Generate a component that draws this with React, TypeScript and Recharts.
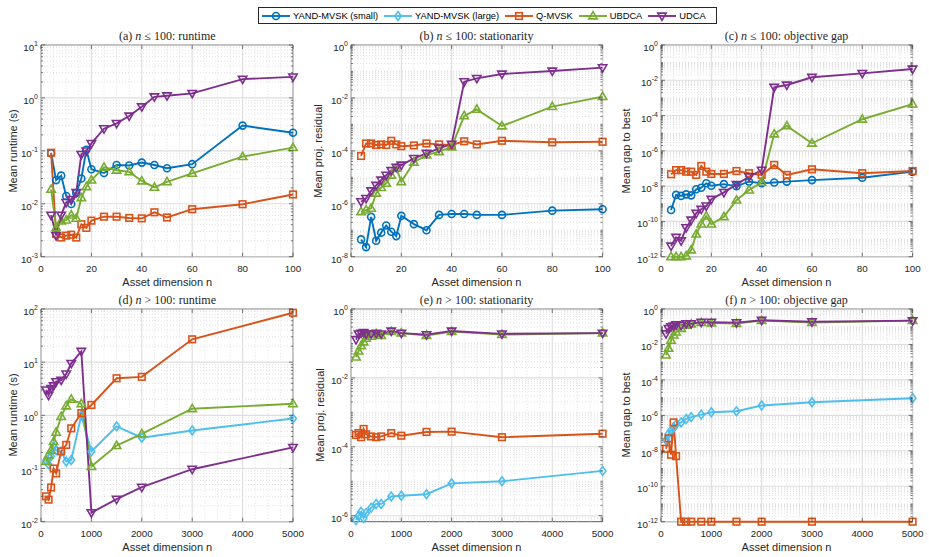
import React from 'react';
import { LineChart, Line, XAxis, YAxis, ReferenceLine, ReferenceArea } from 'recharts';

// asset dimensions
const nSmall = [4, 6, 8, 10, 12, 14, 16, 18, 20, 25, 30, 35, 40, 45, 50, 60, 80, 100];
const nLarge = [100, 150, 200, 250, 300, 400, 500, 600, 800, 1000, 1500, 2000, 3000, 5000];

// (a) runtime, n <= 100
const runtimeSmallYand = [0.09, 0.028, 0.034, 0.014, 0.0099, 0.016, 0.03, 0.105, 0.045, 0.038, 0.054, 0.053, 0.06, 0.054, 0.047, 0.056, 0.3, 0.22];
const runtimeSmallQ = [0.092, 0.0027, 0.0023, 0.0025, 0.0026, 0.0023, 0.0041, 0.0035, 0.0048, 0.0057, 0.0057, 0.0054, 0.0053, 0.0069, 0.0055, 0.0079, 0.0098, 0.015];
const runtimeSmallUbdca = [0.0187, 0.0035, 0.0047, 0.0049, 0.0061, 0.0053, 0.013, 0.021, 0.028, 0.049, 0.043, 0.04, 0.027, 0.0204, 0.026, 0.0376, 0.0776, 0.115];
const runtimeSmallUdca = [0.0061, 0.0025, 0.0061, 0.0106, 0.0121, 0.0164, 0.0857, 0.1, 0.138, 0.262, 0.33, 0.455, 0.68, 1.05, 1.1, 1.22, 2.27, 2.5];

// (b) stationarity, n <= 100
const statSmallYand = [4.5e-8, 2.3e-8, 3.2e-7, 4e-8, 8.1e-8, 1.5e-7, 8.8e-8, 6e-8, 3.5e-7, 1.7e-7, 1.0e-7, 3.8e-7, 4.1e-7, 4.1e-7, 3.8e-7, 3.8e-7, 5.5e-7, 6.2e-7];
const statSmallQ = [6.4e-5, 1.9e-4, 1.9e-4, 1.66e-4, 1.75e-4, 1.66e-4, 2.4e-4, 1.75e-4, 1.5e-4, 1.6e-4, 1.9e-4, 1.75e-4, 1.66e-4, 2.3e-4, 1.75e-4, 2.4e-4, 2.1e-4, 2.2e-4];
const statSmallUbdca = [5e-7, 5.8e-7, 6.7e-7, 2.5e-6, 4.1e-6, 5.9e-6, 1.2e-5, 2.2e-5, 6.8e-6, 3.7e-5, 6.9e-5, 9.3e-5, 1.4e-4, 2.1e-3, 3.7e-3, 8.7e-4, 4.7e-3, 0.0112];
const statSmallUdca = [1.2e-6, 1.6e-6, 3.1e-6, 5e-6, 7.9e-6, 1.2e-5, 1.8e-5, 2.4e-5, 2.9e-5, 5.2e-5, 8.1e-5, 1.25e-4, 1.8e-4, 0.041, 0.055, 0.08, 0.104, 0.139];

// (c) objective gap, n <= 100
const gapSmallYand = [4.4e-10, 3.2e-9, 2.8e-9, 3.4e-9, 3e-9, 6.6e-9, 8.1e-9, 1.45e-8, 1.05e-8, 1.3e-8, 1e-8, 1.8e-8, 1.45e-8, 1.6e-8, 1.8e-8, 2.2e-8, 3e-8, 6.6e-8];
const gapSmallQ = [4.7e-8, 8.1e-8, 8.1e-8, 6.6e-8, 6.6e-8, 4.3e-8, 1.4e-7, 6.6e-8, 4.9e-8, 4.9e-8, 7.2e-8, 5.4e-8, 4.3e-8, 1.6e-7, 4.3e-8, 9e-8, 5.4e-8, 7.2e-8];
const gapSmallUbdca = [1e-12, 1e-12, 1e-12, 1.1e-12, 2.4e-12, 1.9e-11, 7.1e-11, 2e-10, 7e-11, 1.85e-10, 1.6e-9, 6e-9, 1.65e-8, 9e-6, 2.6e-5, 2.7e-6, 6.2e-5, 4.5e-4];
const gapSmallUdca = [4e-12, 1.26e-11, 8e-12, 4.4e-11, 1.2e-10, 2.9e-10, 4.9e-10, 7.5e-10, 1.8e-9, 4.4e-9, 1.26e-8, 3.4e-8, 8.1e-8, 4e-3, 5.4e-3, 0.0148, 0.0247, 0.0437];

// (d) runtime, n > 100
const runtimeLargeYand = [0.14, 0.12, 0.17, 0.26, 0.22, 0.21, 0.135, 0.145, 1.0, 0.21, 0.62, 0.38, 0.52, 0.87];
const runtimeLargeQ = [0.03, 0.026, 0.044, 0.1, 0.081, 0.21, 0.278, 0.57, 1.1, 1.57, 4.98, 5.3, 26.9, 85];
const runtimeLargeUbdca = [0.135, 0.18, 0.22, 0.32, 0.48, 0.95, 1.5, 2.0, 1.65, 0.109, 0.27, 0.45, 1.33, 1.65];
const runtimeLargeUdca = [3.0, 2.4, 3.2, 3.6, 4.3, 4.6, 6.0, 9.5, 16, 0.0148, 0.0265, 0.0445, 0.097, 0.25];

// (e) stationarity, n > 100
const statLargeYand = [7.5e-7, 1.0e-6, 1.3e-6, 8.5e-7, 1.2e-6, 1.7e-6, 2.2e-6, 2.2e-6, 3.6e-6, 3.8e-6, 4.2e-6, 8.7e-6, 1.0e-5, 2.0e-5];
const statLargeQ = [2.2e-4, 2.5e-4, 1.9e-4, 3.3e-4, 2.3e-4, 2.0e-4, 1.9e-4, 2.0e-4, 2.5e-4, 2.1e-4, 2.7e-4, 2.75e-4, 1.9e-4, 2.4e-4];
const statLargeUbdca = [0.04, 0.06, 0.085, 0.11, 0.14, 0.16, 0.19, 0.17, 0.22, 0.2, 0.17, 0.22, 0.18, 0.2];
const statLargeUdca = [0.13, 0.19, 0.2, 0.21, 0.19, 0.19, 0.2, 0.19, 0.23, 0.2, 0.18, 0.23, 0.19, 0.2];

// (f) objective gap, n > 100
const gapLargeYand = [4e-8, 9e-8, 1.4e-7, 2e-7, 3e-7, 4e-7, 6.3e-7, 8e-7, 1.1e-6, 1.5e-6, 1.7e-6, 3.6e-6, 5.5e-6, 9.3e-6];
const gapLargeQ = [1.3e-8, 5e-8, 6e-9, 4e-7, 5e-9, 1e-12, 1e-12, 1e-12, 1e-12, 1e-12, 1e-12, 1e-12, 1e-12, 1e-12];
const gapLargeUbdca = [2.5e-3, 6e-3, 0.017, 0.034, 0.05, 0.08, 0.12, 0.14, 0.17, 0.16, 0.15, 0.22, 0.17, 0.22];
const gapLargeUdca = [0.04, 0.08, 0.1, 0.11, 0.13, 0.12, 0.15, 0.15, 0.18, 0.18, 0.17, 0.23, 0.19, 0.22];

const SANS = '"Liberation Sans", Arial, Helvetica, sans-serif';
const SERIF = '"Liberation Serif", "Times New Roman", serif';
const INK = '#262626';

type Shape = 'circle' | 'diamond' | 'square' | 'up' | 'down';

const METHODS: { name: string; color: string; shape: Shape }[] = [
  { name: 'YAND-MVSK (small)', color: '#0072BD', shape: 'circle' },
  { name: 'YAND-MVSK (large)', color: '#4DBEEE', shape: 'diamond' },
  { name: 'Q-MVSK', color: '#D95319', shape: 'square' },
  { name: 'UBDCA', color: '#77AC30', shape: 'up' },
  { name: 'UDCA', color: '#7E2F8E', shape: 'down' },
];

const Marker = ({ shape, color, cx, cy }: { shape: Shape; color: string; cx: number; cy: number }) => {
  const common = { fill: 'none', stroke: color, strokeWidth: 1.6 };
  if (shape === 'circle') return <circle cx={cx} cy={cy} r={3.5} {...common} />;
  if (shape === 'square') return <rect x={cx - 3.3} y={cy - 3.3} width={6.6} height={6.6} {...common} />;
  if (shape === 'diamond')
    return <path d={`M${cx},${cy - 4.4}L${cx + 3.3},${cy}L${cx},${cy + 4.4}L${cx - 3.3},${cy}Z`} {...common} />;
  if (shape === 'up')
    return <path d={`M${cx},${cy - 4.4}L${cx + 4.2},${cy + 2.9}L${cx - 4.2},${cy + 2.9}Z`} {...common} />;
  return <path d={`M${cx},${cy + 4.4}L${cx + 4.2},${cy - 2.9}L${cx - 4.2},${cy - 2.9}Z`} {...common} />;
};

const makeDot = (shape: Shape, color: string) => (props: any) => {
  const { cx, cy, index } = props;
  if (cx == null || cy == null) return <g key={`d-${index}`} />;
  return <Marker key={`d-${index}`} shape={shape} color={color} cx={cx} cy={cy} />;
};

const zip = (xs: number[], ys: number[]) => xs.map((n, i) => ({ n, v: ys[i] }));

// plot rectangles in page pixels
const COLS = [
  { l: 41.3, r: 293.3 },
  { l: 350.7, r: 602.3 },
  { l: 660.7, r: 912.3 },
];
const ROWS = [
  { t: 45, b: 256.7 },
  { t: 309, b: 521.7 },
];

const YW = 48;
const MT = 10;
const MR = 12;
const XH = 30;

interface PanelProps {
  col: number;
  row: number;
  title: React.ReactNode;
  ylabel: string;
  ylabelDx: number;
  xMax: number;
  xTicks: number[];
  xMinorStep: number;
  yMinExp: number;
  yMaxExp: number;
  yDomainMin?: number;
  yMajorStep: number;
  series: { idx: number; ys: number[] }[];
  xs: number[];
}

const Panel = (p: PanelProps) => {
  const { l, r } = COLS[p.col];
  const { t, b } = ROWS[p.row];
  const pw = r - l;
  const ph = b - t;
  const W = YW + pw + MR;
  const H = MT + ph + XH;
  const yMin = p.yDomainMin ?? Math.pow(10, p.yMinExp);
  const yMax = Math.pow(10, p.yMaxExp);

  const majorExps: number[] = [];
  for (let e = p.yMinExp; e <= p.yMaxExp; e += p.yMajorStep) majorExps.push(e);
  const minorY: number[] = [];
  const lowDec = Math.floor(Math.log10(yMin));
  for (let e = lowDec; e < p.yMaxExp; e++) {
    for (let k = 1; k <= 9; k++) {
      const v = k * Math.pow(10, e);
      if (v < yMin * 0.999 || v > yMax * 1.001) continue;
      if (k === 1 && majorExps.includes(e)) continue;
      minorY.push(v);
    }
  }
  const majorY = majorExps.map((e) => Math.pow(10, e));
  const allYTicks = [...majorY, ...minorY].sort((a, c) => a - c);

  const minorX: number[] = [];
  for (let x = p.xMinorStep; x < p.xMax; x += p.xMinorStep) {
    if (!p.xTicks.includes(x)) minorX.push(x);
  }

  const isMajor = (v: number) => {
    const lg = Math.log10(v);
    const e = Math.round(lg);
    return Math.abs(lg - e) < 1e-6 && majorExps.includes(e);
  };

  const renderYTick = (props: any) => {
    const { y, payload } = props;
    const v = payload.value;
    const major = isMajor(v);
    const len = major ? 4 : 2;
    return (
      <g>
        <line x1={YW} x2={YW + len} y1={y} y2={y} stroke={INK} strokeWidth={0.6} />
        <line x1={YW + pw - len} x2={YW + pw} y1={y} y2={y} stroke={INK} strokeWidth={0.6} />
        {major && (
          <text x={YW - 3} y={y + 6} textAnchor="end" fontFamily={SANS} fontSize={9.8} fill={INK}>
            <tspan>10</tspan>
            <tspan dy={-5} fontSize={7}>
              {Math.round(Math.log10(v))}
            </tspan>
          </text>
        )}
      </g>
    );
  };

  const renderXTick = (props: any) => {
    const { x, payload } = props;
    const yb = MT + ph;
    return (
      <g>
        <line x1={x} x2={x} y1={yb} y2={yb - 4} stroke={INK} strokeWidth={0.6} />
        <line x1={x} x2={x} y1={MT} y2={MT + 4} stroke={INK} strokeWidth={0.6} />
        <text x={x} y={yb + 15} textAnchor="middle" fontFamily={SANS} fontSize={9.8} fill={INK}>
          {payload.value}
        </text>
      </g>
    );
  };

  const cx = (l + r) / 2;
  return (
    <>
      <div style={{ position: 'absolute', left: l - YW, top: t - MT }}>
        <LineChart width={W} height={H} margin={{ top: MT, right: MR, bottom: 0, left: 0 }}>
          <XAxis
            type="number"
            dataKey="n"
            domain={[0, p.xMax]}
            ticks={p.xTicks}
            interval={0}
            tick={renderXTick}
            tickLine={false}
            axisLine={false}
            height={XH}
            allowDuplicatedCategory={false}
          />
          <YAxis
            type="number"
            scale="log"
            domain={[yMin, yMax]}
            ticks={allYTicks}
            interval={0}
            tick={renderYTick}
            tickLine={false}
            axisLine={false}
            width={YW}
          />
          {minorY.map((v) => (
            <ReferenceLine key={`my-${v}`} y={v} stroke="#cccccc" strokeWidth={0.6} strokeDasharray="1 2" />
          ))}
          {minorX.map((v) => (
            <ReferenceLine key={`mx-${v}`} x={v} stroke="#cccccc" strokeWidth={0.6} strokeDasharray="1 2" />
          ))}
          {majorY.map((v) => (
            <ReferenceLine key={`gy-${v}`} y={v} stroke="#dedede" strokeWidth={1.1} />
          ))}
          {p.xTicks.map((v) => (
            <ReferenceLine key={`gx-${v}`} x={v} stroke="#dedede" strokeWidth={1.1} />
          ))}
          {p.series.map((s) => {
            const m = METHODS[s.idx];
            return (
              <Line
                key={m.name}
                data={zip(p.xs, s.ys)}
                dataKey="v"
                type="linear"
                stroke={m.color}
                strokeWidth={1.9}
                dot={makeDot(m.shape, m.color)}
                activeDot={false}
                isAnimationActive={false}
              />
            );
          })}
          <ReferenceArea
            x1={0}
            x2={p.xMax}
            y1={yMin}
            y2={yMax}
            fill="none"
            fillOpacity={0}
            stroke={INK}
            strokeWidth={0.8}
            ifOverflow="visible"
          />
        </LineChart>
      </div>
      <div
        style={{
          position: 'absolute',
          left: cx,
          top: t - 9,
          transform: 'translate(-50%, -50%)',
          fontFamily: SERIF,
          fontSize: 12,
          color: INK,
          whiteSpace: 'nowrap',
        }}
      >
        {p.title}
      </div>
      <div
        style={{
          position: 'absolute',
          left: l - p.ylabelDx,
          top: (t + b) / 2,
          transform: 'translate(-50%, -50%) rotate(-90deg)',
          fontFamily: SANS,
          fontSize: 11,
          color: INK,
          whiteSpace: 'nowrap',
        }}
      >
        {p.ylabel}
      </div>
      <div
        style={{
          position: 'absolute',
          left: cx,
          top: b + 25,
          transform: 'translate(-50%, -50%)',
          fontFamily: SANS,
          fontSize: 11,
          color: INK,
          whiteSpace: 'nowrap',
        }}
      >
        Asset dimension n
      </div>
    </>
  );
};

const Title = ({ tag, op, rest }: { tag: string; op: string; rest: string }) => (
  <span>
    ({tag}) <i>n</i> {op} 100: {rest}
  </span>
);

const Legend = () => (
  <div
    style={{
      position: 'absolute',
      left: 258,
      top: 7,
      height: 15,
      display: 'flex',
      alignItems: 'center',
      border: `1px solid ${INK}`,
      background: '#fff',
      padding: '0 4px 0 3px',
      fontFamily: SANS,
      fontSize: 9.3,
      color: '#000',
      whiteSpace: 'nowrap',
    }}
  >
    {METHODS.map((m) => (
      <div key={m.name} style={{ display: 'flex', alignItems: 'center', marginRight: 6 }}>
        <svg width={28} height={12} style={{ display: 'block' }}>
          <line x1={0} x2={28} y1={6} y2={6} stroke={m.color} strokeWidth={1.9} />
          <Marker shape={m.shape} color={m.color} cx={14} cy={6} />
        </svg>
        <span style={{ marginLeft: 3 }}>{m.name}</span>
      </div>
    ))}
  </div>
);

export default function App() {
  const topTicks = [0, 20, 40, 60, 80, 100];
  const botTicks = [0, 1000, 2000, 3000, 4000, 5000];
  return (
    <div style={{ position: 'absolute', left: 0, top: 0, width: 929, height: 557, background: '#fff', overflow: 'hidden' }}>
      <Panel
        col={0}
        row={0}
        title={<Title tag="a" op="≤" rest="runtime" />}
        ylabel="Mean runtime (s)"
        ylabelDx={28}
        xMax={100}
        xTicks={topTicks}
        xMinorStep={5}
        yMinExp={-3}
        yMaxExp={1}
        yMajorStep={1}
        xs={nSmall}
        series={[
          { idx: 0, ys: runtimeSmallYand },
          { idx: 2, ys: runtimeSmallQ },
          { idx: 3, ys: runtimeSmallUbdca },
          { idx: 4, ys: runtimeSmallUdca },
        ]}
      />
      <Panel
        col={1}
        row={0}
        title={<Title tag="b" op="≤" rest="stationarity" />}
        ylabel="Mean proj. residual"
        ylabelDx={33}
        xMax={100}
        xTicks={topTicks}
        xMinorStep={5}
        yMinExp={-8}
        yMaxExp={0}
        yMajorStep={2}
        xs={nSmall}
        series={[
          { idx: 0, ys: statSmallYand },
          { idx: 2, ys: statSmallQ },
          { idx: 3, ys: statSmallUbdca },
          { idx: 4, ys: statSmallUdca },
        ]}
      />
      <Panel
        col={2}
        row={0}
        title={<Title tag="c" op="≤" rest="objective gap" />}
        ylabel="Mean gap to best"
        ylabelDx={35}
        xMax={100}
        xTicks={topTicks}
        xMinorStep={5}
        yMinExp={-12}
        yMaxExp={0}
        yMajorStep={2}
        xs={nSmall}
        series={[
          { idx: 0, ys: gapSmallYand },
          { idx: 2, ys: gapSmallQ },
          { idx: 3, ys: gapSmallUbdca },
          { idx: 4, ys: gapSmallUdca },
        ]}
      />
      <Panel
        col={0}
        row={1}
        title={<Title tag="d" op=">" rest="runtime" />}
        ylabel="Mean runtime (s)"
        ylabelDx={28}
        xMax={5000}
        xTicks={botTicks}
        xMinorStep={250}
        yMinExp={-2}
        yMaxExp={2}
        yMajorStep={1}
        xs={nLarge}
        series={[
          { idx: 1, ys: runtimeLargeYand },
          { idx: 2, ys: runtimeLargeQ },
          { idx: 3, ys: runtimeLargeUbdca },
          { idx: 4, ys: runtimeLargeUdca },
        ]}
      />
      <Panel
        col={1}
        row={1}
        title={<Title tag="e" op=">" rest="stationarity" />}
        ylabel="Mean proj. residual"
        ylabelDx={31}
        xMax={5000}
        xTicks={botTicks}
        xMinorStep={250}
        yMinExp={-6}
        yMaxExp={0}
        yDomainMin={6.7e-7}
        yMajorStep={2}
        xs={nLarge}
        series={[
          { idx: 1, ys: statLargeYand },
          { idx: 2, ys: statLargeQ },
          { idx: 3, ys: statLargeUbdca },
          { idx: 4, ys: statLargeUdca },
        ]}
      />
      <Panel
        col={2}
        row={1}
        title={<Title tag="f" op=">" rest="objective gap" />}
        ylabel="Mean gap to best"
        ylabelDx={35}
        xMax={5000}
        xTicks={botTicks}
        xMinorStep={250}
        yMinExp={-12}
        yMaxExp={0}
        yMajorStep={2}
        xs={nLarge}
        series={[
          { idx: 1, ys: gapLargeYand },
          { idx: 2, ys: gapLargeQ },
          { idx: 3, ys: gapLargeUbdca },
          { idx: 4, ys: gapLargeUdca },
        ]}
      />
      <Legend />
    </div>
  );
}
